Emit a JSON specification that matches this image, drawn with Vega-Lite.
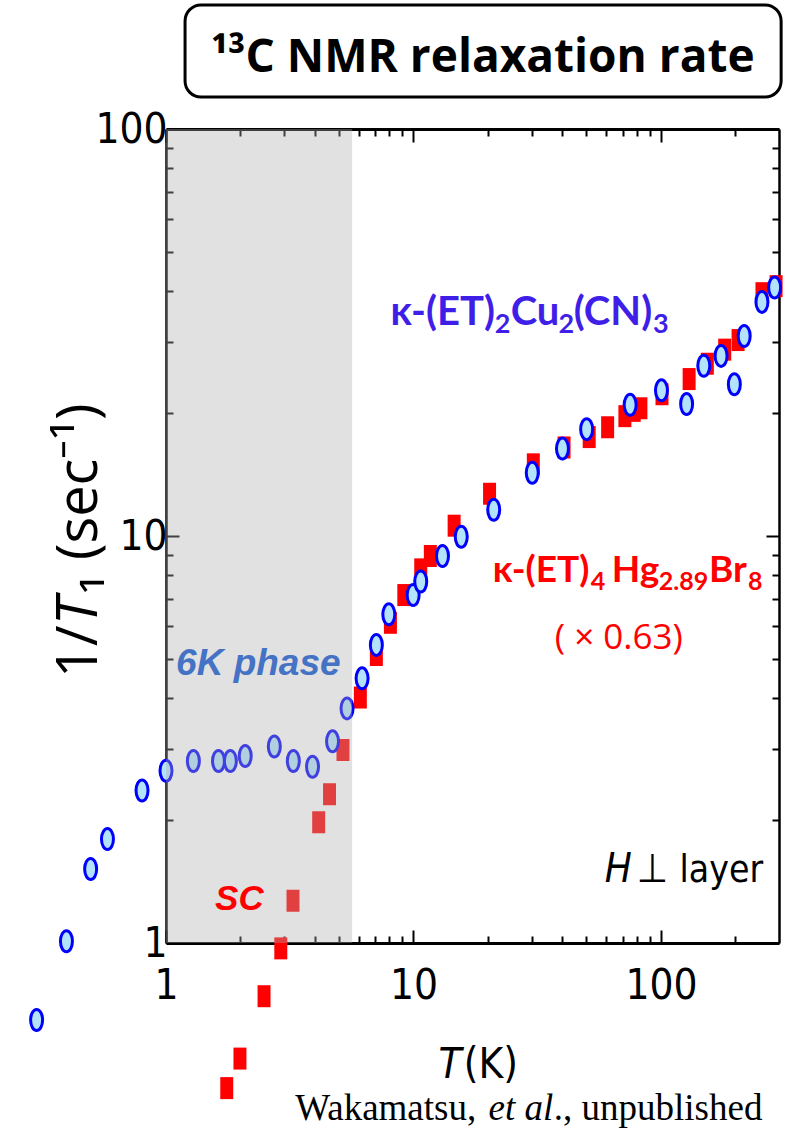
{
  "$schema": "https://vega.github.io/schema/vega-lite/v6.json",
  "width": 613,
  "height": 814,
  "autosize": {"type": "none"},
  "padding": {"left": 166, "top": 129, "right": 10, "bottom": 188},
  "background": "white",
  "config": {"view": {"stroke": null}},
  "datasets": {
    "hg": [
      {"T": 1.76, "r": 0.44}, {"T": 1.99, "r": 0.52}, {"T": 2.49, "r": 0.74}, {"T": 2.91, "r": 0.97},
      {"T": 3.26, "r": 1.27}, {"T": 4.14, "r": 1.98}, {"T": 4.58, "r": 2.32}, {"T": 5.19, "r": 2.98},
      {"T": 6.10, "r": 4.01}, {"T": 7.08, "r": 5.10}, {"T": 8.07, "r": 6.12}, {"T": 9.14, "r": 7.16},
      {"T": 10.7, "r": 8.28}, {"T": 11.7, "r": 8.93}, {"T": 14.6, "r": 10.6}, {"T": 20.3, "r": 12.7},
      {"T": 30.5, "r": 15.0}, {"T": 40.6, "r": 16.5}, {"T": 51.3, "r": 17.5}, {"T": 60.9, "r": 18.5},
      {"T": 71.5, "r": 19.7}, {"T": 78, "r": 20.3}, {"T": 83, "r": 20.6}, {"T": 101, "r": 22.3},
      {"T": 130, "r": 24.3}, {"T": 154, "r": 26.5}, {"T": 181, "r": 28.7}, {"T": 205, "r": 30.3},
      {"T": 256, "r": 39.5}, {"T": 292, "r": 41.1}
    ],
    "cu": [
      {"T": 0.30, "r": 0.647}, {"T": 0.396, "r": 1.01}, {"T": 0.496, "r": 1.52}, {"T": 0.58, "r": 1.80},
      {"T": 0.80, "r": 2.37}, {"T": 1.0, "r": 2.65}, {"T": 1.29, "r": 2.80}, {"T": 1.63, "r": 2.80},
      {"T": 1.82, "r": 2.80}, {"T": 2.09, "r": 2.88}, {"T": 2.74, "r": 3.04}, {"T": 3.27, "r": 2.80},
      {"T": 3.91, "r": 2.71}, {"T": 4.71, "r": 3.13}, {"T": 5.39, "r": 3.77}, {"T": 6.20, "r": 4.47},
      {"T": 7.08, "r": 5.40}, {"T": 7.95, "r": 6.42}, {"T": 9.97, "r": 7.16}, {"T": 10.7, "r": 7.73},
      {"T": 13.1, "r": 8.93}, {"T": 15.6, "r": 9.96}, {"T": 21.1, "r": 11.6}, {"T": 30.2, "r": 14.3},
      {"T": 40, "r": 16.4}, {"T": 50.1, "r": 18.3}, {"T": 75.1, "r": 21.0}, {"T": 100.5, "r": 22.8},
      {"T": 127, "r": 21.1}, {"T": 149, "r": 26.2}, {"T": 175, "r": 27.7}, {"T": 198, "r": 23.6},
      {"T": 217, "r": 31.0}, {"T": 256, "r": 37.6}, {"T": 288, "r": 40.8}
    ]
  },
  "resolve": {"axis": {"x": "independent", "y": "independent"}},
  "layer": [
    {
      "data": {"values": [{"T1": 1.194, "T2": 306, "v1": 201.7, "v2": 119.8}]},
      "mark": {"type": "rect", "fill": "white", "stroke": "black", "strokeWidth": 3, "cornerRadius": 16},
      "encoding": {
        "x": {"field": "T1", "type": "quantitative", "scale": {"type": "log", "domain": [1, 300], "nice": false}, "axis": null},
        "x2": {"field": "T2"},
        "y": {"field": "v1", "type": "quantitative", "scale": {"type": "log", "domain": [1, 100], "nice": false}, "axis": null},
        "y2": {"field": "v2"}
      }
    },
    {
      "data": {"name": "hg"},
      "mark": {"type": "point", "shape": "M -0.59 -1 L 0.59 -1 L 0.59 1 L -0.59 1 Z", "filled": true, "color": "#ff0000", "opacity": 1, "size": 484, "strokeWidth": 0},
      "encoding": {
        "x": {"field": "T", "type": "quantitative", "scale": {"type": "log", "domain": [1, 300], "nice": false},
          "axis": {"orient": "bottom", "values": [1,2,3,4,5,6,7,8,9,10,20,30,40,50,60,70,80,90,100,200], "format": "d",
            "labelExpr": "(datum.value == 1 || datum.value == 10 || datum.value == 100) ? datum.label : ''",
            "tickSize": {"condition": {"test": "datum.value == 1 || datum.value == 10 || datum.value == 100", "value": -13}, "value": -7},
            "tickColor": "black", "tickWidth": 2, "domainColor": "black", "domainWidth": 3, "grid": false, "title": null,
            "labelFont": "DejaVu Sans Condensed", "labelFontSize": 42, "labelColor": "black", "labelPadding": 35,
            "labelOverlap": false, "labelFlush": false, "labelBound": false}},
        "y": {"field": "r", "type": "quantitative", "scale": {"type": "log", "domain": [1, 100], "nice": false},
          "axis": {"orient": "left", "values": [1,2,3,4,5,6,7,8,9,10,20,30,40,50,60,70,80,90,100], "format": "d",
            "labelExpr": "(datum.value == 1 || datum.value == 10 || datum.value == 100) ? datum.label : ''",
            "tickSize": {"condition": {"test": "datum.value == 1 || datum.value == 10 || datum.value == 100", "value": -13}, "value": -7},
            "tickColor": "black", "tickWidth": 2, "domainColor": "black", "domainWidth": 2.5, "grid": false, "title": null,
            "labelFont": "DejaVu Sans Condensed", "labelFontSize": 42, "labelColor": "black", "labelPadding": 12,
            "labelOverlap": false, "labelFlush": false, "labelBound": false}}
      }
    },
    {
      "data": {"name": "cu"},
      "mark": {"type": "point", "shape": "M 0.571 0 C 0.571 0.5523 0.3154 1 0 1 C -0.3154 1 -0.571 0.5523 -0.571 0 C -0.571 -0.5523 -0.3154 -1 0 -1 C 0.3154 -1 0.571 -0.5523 0.571 0 Z",
        "fill": "#b3e2fb", "stroke": "#0000ff", "strokeWidth": 3, "opacity": 1, "fillOpacity": 1, "size": 441},
      "encoding": {
        "x": {"field": "T", "type": "quantitative", "scale": {"type": "log", "domain": [1, 300], "nice": false},
          "axis": {"orient": "top", "values": [1,2,3,4,5,6,7,8,9,10,20,30,40,50,60,70,80,90,100,200], "labels": false,
            "tickSize": {"condition": {"test": "datum.value == 1 || datum.value == 10 || datum.value == 100", "value": -13}, "value": -7},
            "tickColor": "black", "tickWidth": 2, "domainColor": "black", "domainWidth": 3, "grid": false, "title": null}},
        "y": {"field": "r", "type": "quantitative", "scale": {"type": "log", "domain": [1, 100], "nice": false},
          "axis": {"orient": "right", "values": [1,2,3,4,5,6,7,8,9,10,20,30,40,50,60,70,80,90,100], "labels": false,
            "tickSize": {"condition": {"test": "datum.value == 1 || datum.value == 10 || datum.value == 100", "value": -13}, "value": -7},
            "tickColor": "black", "tickWidth": 2, "domainColor": "black", "domainWidth": 2.5, "grid": false, "title": null}}
      }
    },
    {
      "data": {"values": [{"T1": 1, "T2": 5.65, "v1": 1, "v2": 100}]},
      "mark": {"type": "rect", "fill": "#adadad", "opacity": 0.37},
      "encoding": {
        "x": {"field": "T1", "type": "quantitative", "scale": {"type": "log", "domain": [1, 300], "nice": false}, "axis": null},
        "x2": {"field": "T2"},
        "y": {"field": "v1", "type": "quantitative", "scale": {"type": "log", "domain": [1, 100], "nice": false}, "axis": null},
        "y2": {"field": "v2"}
      }
    },
    {
      "data": {"values": [{"T": 19.03, "v": 138.1, "label": "¹³C NMR relaxation rate"}]},
      "mark": {"type": "text", "font": "Open Sans", "fontWeight": "bold", "fontSize": 46, "color": "black", "align": "center", "baseline": "alphabetic"},
      "encoding": {
        "x": {"field": "T", "type": "quantitative", "scale": {"type": "log", "domain": [1, 300], "nice": false}, "axis": null},
        "y": {"field": "v", "type": "quantitative", "scale": {"type": "log", "domain": [1, 100], "nice": false}, "axis": null},
        "text": {"field": "label"}
      }
    },
    {
      "data": {"values": [{"T": 8.07, "v": 33.0, "label": "κ-(ET)"}, {"T": 24.7, "v": 33.0, "label": "Cu"}, {"T": 44.4, "v": 33.0, "label": "(CN)"}]},
      "mark": {"type": "text", "font": "Lato", "fontWeight": "bold", "fontSize": 40, "color": "#3f1fe8", "align": "left", "baseline": "alphabetic"},
      "encoding": {
        "x": {"field": "T", "type": "quantitative", "scale": {"type": "log", "domain": [1, 300], "nice": false}, "axis": null},
        "y": {"field": "v", "type": "quantitative", "scale": {"type": "log", "domain": [1, 100], "nice": false}, "axis": null},
        "text": {"field": "label"}
      }
    },
    {
      "data": {"values": [{"T": 21.3, "v": 31.5, "label": "2"}, {"T": 38.6, "v": 31.5, "label": "2"}, {"T": 92.8, "v": 31.5, "label": "3"}]},
      "mark": {"type": "text", "font": "Lato", "fontWeight": "bold", "fontSize": 27, "color": "#3f1fe8", "align": "left", "baseline": "alphabetic"},
      "encoding": {
        "x": {"field": "T", "type": "quantitative", "scale": {"type": "log", "domain": [1, 300], "nice": false}, "axis": null},
        "y": {"field": "v", "type": "quantitative", "scale": {"type": "log", "domain": [1, 100], "nice": false}, "axis": null},
        "text": {"field": "label"}
      }
    },
    {
      "data": {"values": [{"T": 20.9, "v": 7.71, "label": "κ-(ET)"}, {"T": 63.3, "v": 7.71, "label": "Hg"}, {"T": 156.4, "v": 7.71, "label": "Br"}]},
      "mark": {"type": "text", "font": "Lato", "fontWeight": "bold", "fontSize": 37, "color": "#ff0000", "align": "left", "baseline": "alphabetic"},
      "encoding": {
        "x": {"field": "T", "type": "quantitative", "scale": {"type": "log", "domain": [1, 300], "nice": false}, "axis": null},
        "y": {"field": "v", "type": "quantitative", "scale": {"type": "log", "domain": [1, 100], "nice": false}, "axis": null},
        "text": {"field": "label"}
      }
    },
    {
      "data": {"values": [{"T": 52.1, "v": 7.37, "label": "4"}, {"T": 98.1, "v": 7.37, "label": "2.89"}, {"T": 225, "v": 7.37, "label": "8"}]},
      "mark": {"type": "text", "font": "Lato", "fontWeight": "bold", "fontSize": 25, "color": "#ff0000", "align": "left", "baseline": "alphabetic"},
      "encoding": {
        "x": {"field": "T", "type": "quantitative", "scale": {"type": "log", "domain": [1, 300], "nice": false}, "axis": null},
        "y": {"field": "v", "type": "quantitative", "scale": {"type": "log", "domain": [1, 100], "nice": false}, "axis": null},
        "text": {"field": "label"}
      }
    },
    {
      "data": {"values": [{"T": 67.6, "v": 5.62, "label": "( × 0.63)"}]},
      "mark": {"type": "text", "font": "Open Sans", "fontSize": 35, "color": "#ff0000", "align": "center", "baseline": "middle"},
      "encoding": {
        "x": {"field": "T", "type": "quantitative", "scale": {"type": "log", "domain": [1, 300], "nice": false}, "axis": null},
        "y": {"field": "v", "type": "quantitative", "scale": {"type": "log", "domain": [1, 100], "nice": false}, "axis": null},
        "text": {"field": "label"}
      }
    },
    {
      "data": {"values": [{"T": 1.098, "v": 4.556, "label": "6K phase"}]},
      "mark": {"type": "text", "font": "Liberation Sans", "fontWeight": "bold", "fontStyle": "italic", "fontSize": 37, "color": "#4472c4", "align": "left", "baseline": "alphabetic"},
      "encoding": {
        "x": {"field": "T", "type": "quantitative", "scale": {"type": "log", "domain": [1, 300], "nice": false}, "axis": null},
        "y": {"field": "v", "type": "quantitative", "scale": {"type": "log", "domain": [1, 100], "nice": false}, "axis": null},
        "text": {"field": "label"}
      }
    },
    {
      "data": {"values": [{"T": 1.579, "v": 1.205, "label": "SC"}]},
      "mark": {"type": "text", "font": "Liberation Sans", "fontWeight": "bold", "fontStyle": "italic", "fontSize": 35, "color": "#ff0000", "align": "left", "baseline": "alphabetic"},
      "encoding": {
        "x": {"field": "T", "type": "quantitative", "scale": {"type": "log", "domain": [1, 300], "nice": false}, "axis": null},
        "y": {"field": "v", "type": "quantitative", "scale": {"type": "log", "domain": [1, 100], "nice": false}, "axis": null},
        "text": {"field": "label"}
      }
    },
    {
      "data": {"values": [{"T": 59.3, "v": 1.412, "label": "H"}]},
      "mark": {"type": "text", "font": "DejaVu Sans Condensed", "fontStyle": "italic", "fontSize": 40, "color": "black", "align": "left", "baseline": "alphabetic"},
      "encoding": {
        "x": {"field": "T", "type": "quantitative", "scale": {"type": "log", "domain": [1, 300], "nice": false}, "axis": null},
        "y": {"field": "v", "type": "quantitative", "scale": {"type": "log", "domain": [1, 100], "nice": false}, "axis": null},
        "text": {"field": "label"}
      }
    },
    {
      "data": {"values": [{"T": 79.9, "v": 1.412, "label": "⊥"}]},
      "mark": {"type": "text", "font": "DejaVu Sans Condensed", "fontSize": 40, "color": "black", "align": "left", "baseline": "alphabetic"},
      "encoding": {
        "x": {"field": "T", "type": "quantitative", "scale": {"type": "log", "domain": [1, 300], "nice": false}, "axis": null},
        "y": {"field": "v", "type": "quantitative", "scale": {"type": "log", "domain": [1, 100], "nice": false}, "axis": null},
        "text": {"field": "label"}
      }
    },
    {
      "data": {"values": [{"T": 258.8, "v": 1.412, "label": "layer"}]},
      "mark": {"type": "text", "font": "DejaVu Sans Condensed", "fontSize": 37, "color": "black", "align": "right", "baseline": "alphabetic"},
      "encoding": {
        "x": {"field": "T", "type": "quantitative", "scale": {"type": "log", "domain": [1, 300], "nice": false}, "axis": null},
        "y": {"field": "v", "type": "quantitative", "scale": {"type": "log", "domain": [1, 100], "nice": false}, "axis": null},
        "text": {"field": "label"}
      }
    },
    {
      "data": {"values": [{"T": 12.62, "v": 0.466, "label": "T"}]},
      "mark": {"type": "text", "font": "DejaVu Sans Condensed", "fontStyle": "italic", "fontSize": 42, "color": "black", "align": "left", "baseline": "alphabetic"},
      "encoding": {
        "x": {"field": "T", "type": "quantitative", "scale": {"type": "log", "domain": [1, 300], "nice": false}, "axis": null},
        "y": {"field": "v", "type": "quantitative", "scale": {"type": "log", "domain": [1, 100], "nice": false}, "axis": null},
        "text": {"field": "label"}
      }
    },
    {
      "data": {"values": [{"T": 15.95, "v": 0.466, "label": "(K)"}]},
      "mark": {"type": "text", "font": "DejaVu Sans Condensed", "fontSize": 42, "color": "black", "align": "left", "baseline": "alphabetic"},
      "encoding": {
        "x": {"field": "T", "type": "quantitative", "scale": {"type": "log", "domain": [1, 300], "nice": false}, "axis": null},
        "y": {"field": "v", "type": "quantitative", "scale": {"type": "log", "domain": [1, 100], "nice": false}, "axis": null},
        "text": {"field": "label"}
      }
    },
    {
      "data": {"values": [{"T": 3.33, "v": 0.367, "label": "Wakamatsu, "}, {"T": 36.9, "v": 0.367, "label": "., unpublished"}]},
      "mark": {"type": "text", "font": "Liberation Serif", "fontSize": 37, "color": "black", "align": "left", "baseline": "alphabetic"},
      "encoding": {
        "x": {"field": "T", "type": "quantitative", "scale": {"type": "log", "domain": [1, 300], "nice": false}, "axis": null},
        "y": {"field": "v", "type": "quantitative", "scale": {"type": "log", "domain": [1, 100], "nice": false}, "axis": null},
        "text": {"field": "label"}
      }
    },
    {
      "data": {"values": [{"T": 20.1, "v": 0.367, "label": "et al"}]},
      "mark": {"type": "text", "font": "Liberation Serif", "fontStyle": "italic", "fontSize": 37, "color": "black", "align": "left", "baseline": "alphabetic"},
      "encoding": {
        "x": {"field": "T", "type": "quantitative", "scale": {"type": "log", "domain": [1, 300], "nice": false}, "axis": null},
        "y": {"field": "v", "type": "quantitative", "scale": {"type": "log", "domain": [1, 100], "nice": false}, "axis": null},
        "text": {"field": "label"}
      }
    },
    {
      "data": {"values": [{"T": 0.5255, "v": 4.478, "label": "1/"}, {"T": 0.5255, "v": 7.20, "label": "₁ (sec⁻¹)"}]},
      "mark": {"type": "text", "font": "Open Sans", "fontSize": 56, "color": "black", "align": "left", "baseline": "alphabetic", "angle": 270},
      "encoding": {
        "x": {"field": "T", "type": "quantitative", "scale": {"type": "log", "domain": [1, 300], "nice": false}, "axis": null},
        "y": {"field": "v", "type": "quantitative", "scale": {"type": "log", "domain": [1, 100], "nice": false}, "axis": null},
        "text": {"field": "label"}
      }
    },
    {
      "data": {"values": [{"T": 0.5255, "v": 6.04, "label": "T"}]},
      "mark": {"type": "text", "font": "Open Sans", "fontStyle": "italic", "fontSize": 56, "color": "black", "align": "left", "baseline": "alphabetic", "angle": 270},
      "encoding": {
        "x": {"field": "T", "type": "quantitative", "scale": {"type": "log", "domain": [1, 300], "nice": false}, "axis": null},
        "y": {"field": "v", "type": "quantitative", "scale": {"type": "log", "domain": [1, 100], "nice": false}, "axis": null},
        "text": {"field": "label"}
      }
    }
  ]
}
